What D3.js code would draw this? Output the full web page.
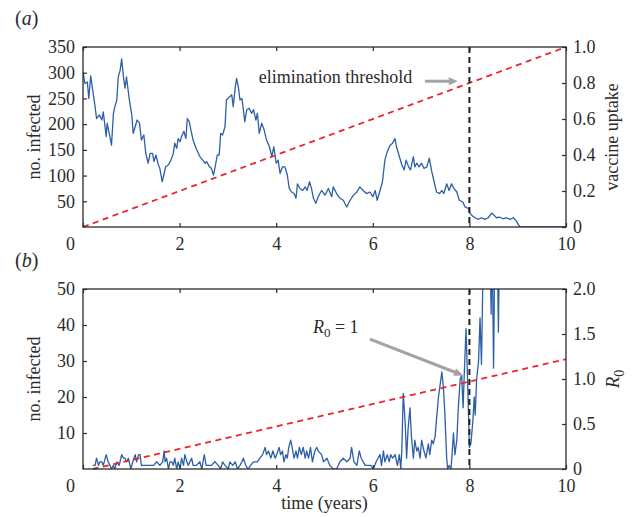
<!DOCTYPE html>
<html>
<head>
<meta charset="utf-8">
<script src="https://cdn.jsdelivr.net/npm/d3@7"></script>
<style>
  body { margin: 0; background: #fff; }
  svg text { font-family: "Liberation Serif", "Times New Roman", Times, serif; fill: #2b2b2b; }
</style>
</head>
<body>
<svg id="chart" width="634" height="517"></svg>
<script>
// ---- panel (a): infection counts while vaccine uptake rises ----
const timeA = [0.0,0.04,0.09,0.12,0.16,0.21,0.25,0.28,0.34,0.39,0.42,0.48,0.50,0.55,0.59,0.63,0.66,0.70,0.73,0.77,
  0.80,0.84,0.87,0.90,0.96,1.01,1.04,1.08,1.12,1.17,1.21,1.26,1.30,1.35,1.39,1.44,1.47,1.51,1.56,1.59,
  1.64,1.68,1.71,1.77,1.82,1.87,1.90,1.94,1.97,2.01,2.04,2.09,2.13,2.16,2.20,2.24,2.28,2.34,2.39,2.42,
  2.48,2.53,2.56,2.62,2.66,2.70,2.73,2.78,2.82,2.85,2.89,2.94,2.97,3.03,3.08,3.11,3.15,3.18,3.22,3.25,
  3.29,3.32,3.35,3.39,3.44,3.49,3.53,3.58,3.61,3.65,3.70,3.75,3.80,3.86,3.91,3.95,4.00,4.04,4.08,4.13,
  4.18,4.23,4.27,4.32,4.37,4.41,4.44,4.49,4.55,4.60,4.64,4.69,4.73,4.77,4.82,4.87,
  4.94,5.01,5.08,5.15,5.18,5.25,5.32,5.39,5.46,5.53,5.60,5.67,5.73,5.80,5.87,5.94,6.00,6.05,6.09,6.15,
  6.20,6.25,6.30,6.36,6.41,6.46,6.49,6.55,6.60,6.65,6.69,6.74,6.78,6.84,6.87,6.91,6.96,7.01,7.06,7.12,
  7.17,7.22,7.27,7.32,7.38,7.43,7.47,7.53,7.58,7.63,7.68,7.74,7.79,7.86,7.91,7.98,8.01,8.07,8.12,8.19,
  8.25,8.32,8.39,8.46,8.51,8.56,8.63,8.70,8.77,8.84,8.91,8.97,9.01,9.05,10.0];
const infectedA = [302,279,282,250,294,260,234,211,218,208,224,176,202,179,159,221,234,247,292,305,
  327,290,270,292,247,218,182,195,208,202,169,179,143,124,143,143,127,140,121,114,
  88,104,117,121,130,143,163,153,172,166,176,186,172,211,205,186,169,153,143,137,
  130,124,127,117,114,101,114,140,140,182,179,195,247,253,257,234,270,289,270,247,
  250,228,205,228,231,221,228,208,221,182,202,189,169,156,137,156,124,130,104,117,
  117,101,75,68,65,56,84,75,71,78,71,88,75,56,46,59,
  71,62,75,59,78,65,56,52,39,52,62,68,78,71,65,68,59,71,52,71,
  88,130,147,159,163,172,156,137,121,111,130,117,111,137,117,124,117,124,114,117,
  134,108,88,68,65,71,65,84,71,84,75,68,52,49,39,36,27,21,18,15,
  18,15,18,27,23,18,19,16,18,15,18,12,5,0,0];
const uptakeTime = [0, 10];
const uptake = [0, 1];

// ---- panel (b): counts while R0 rises through 1 ----
const timeB = [0.20,0.25,0.28,0.32,0.35,0.39,0.42,0.48,0.52,0.56,0.59,0.63,0.66,0.70,0.75,0.80,0.84,0.87,0.90,0.94,
  0.99,1.03,1.08,1.11,1.15,1.18,1.21,1.25,1.32,1.39,1.46,1.53,1.59,1.65,1.68,1.70,1.73,1.77,1.80,1.84,
  1.87,1.90,1.94,1.97,2.01,2.04,2.08,2.11,2.15,2.18,2.25,2.28,2.35,2.42,2.46,2.51,2.55,2.59,2.66,2.73,
  2.80,2.85,2.89,2.94,3.01,3.04,3.10,3.15,3.20,3.25,3.29,3.32,3.37,3.42,3.47,3.53,3.58,3.61,3.66,3.72,
  3.77,3.80,3.84,3.89,3.93,3.98,4.01,4.06,4.09,4.13,4.16,4.20,4.23,4.26,4.30,4.33,4.37,4.41,4.44,4.48,
  4.52,4.56,4.60,4.63,4.67,4.71,4.75,4.80,4.84,4.87,
  4.94,4.98,5.05,5.11,5.18,5.25,5.32,5.39,5.46,5.53,5.56,5.61,5.67,5.72,5.76,5.84,5.91,5.96,6.01,6.07,
  6.15,6.18,6.22,6.25,6.30,6.34,6.37,6.41,6.46,6.51,6.55,6.58,6.60,6.63,6.67,6.70,6.73,6.77,6.80,6.84,
  6.87,6.91,6.94,6.98,7.01,7.06,7.10,7.15,
  7.18,7.22,7.25,7.29,7.32,7.36,7.39,7.43,7.46,7.49,7.53,7.55,7.58,7.62,7.67,7.70,7.74,7.77,7.81,7.84,
  7.87,7.89,7.93,7.96,8.00,8.03,8.07,8.10,8.12,8.15,8.19,8.22,8.25,8.29,8.36,8.42,8.45,8.47,8.50,8.53,
  8.57,8.60,8.63];
const infectedB = [1,1,3,1,2,2,1,4,2,1,0,1,0,2,1,4,3,3,2,3,
  0,2,4,2,4,4,1,1,1,1,1,2,1,2,5,2,3,0,2,2,
  1,3,0,2,0,3,1,4,2,1,3,1,1,2,0,4,1,1,1,2,
  1,0,2,1,0,2,1,2,0,1,2,3,1,0,1,2,2,2,3,4,
  6,4,5,3,5,3,4,6,4,5,2,4,3,6,8,6,3,5,3,6,
  4,6,3,5,3,6,2,5,6,5,
  4,2,3,1,0,0,2,3,2,3,6,2,1,5,3,1,1,1,0,2,
  4,1,5,2,4,2,4,3,4,1,4,0,5,21,13,3,11,17,9,3,
  8,5,6,3,8,5,3,7,
  4,8,7,9,14,20,23,27,23,16,3,0,1,0,10,4,8,17,25,26,
  17,25,39,26,6,7,13,20,15,25,30,42,29,62,70,68,43,65,28,66,
  72,38,70];
const r0Time = [0.2, 10];
const r0 = [0, 1.22];

// ---- shared axis settings ----
const timeTicks = [0, 2, 4, 6, 8, 10];
const thresholdTime = 8;
const ticksA = [50, 100, 150, 200, 250, 300, 350];
const ticksUptake = [0, 0.2, 0.4, 0.6, 0.8, 1.0];
const ticksB = [10, 20, 30, 40, 50];
const ticksR0 = [0, 0.5, 1.0, 1.5, 2.0];

const svg = d3.select("#chart");
const FONT = '"Liberation Serif", "Times New Roman", Times, serif';
const BLUE = "#2d5fa6", RED = "#e8262b", INK = "#2b2b2b", GREY = "#a3a3a3";
const x = d3.scaleLinear().domain([0, 10]).range([83, 566]);

function arrow(g, x1, y1, x2, y2) {
  const len = 9, half = 4;
  const dx = x2 - x1, dy = y2 - y1, L = Math.hypot(dx, dy);
  const ux = dx / L, uy = dy / L;
  const bx = x2 - ux * len, by = y2 - uy * len;
  g.append("line").attr("x1", x1).attr("y1", y1).attr("x2", bx + ux).attr("y2", by + uy)
    .attr("stroke", GREY).attr("stroke-width", 3);
  g.append("path")
    .attr("d", `M${x2},${y2}L${bx - uy * half},${by + ux * half}L${bx + uy * half},${by - ux * half}Z`)
    .attr("fill", GREY);
}

function styleAxis(a) {
  a.attr("font-family", FONT).attr("font-size", 18);
  a.select(".domain").remove();
  a.selectAll(".tick line").attr("stroke", INK).attr("stroke-width", 1.2);
  a.selectAll(".tick text").attr("fill", INK);
}

function drawPanel(p) {
  const y = d3.scaleLinear().domain(p.leftDomain).range([p.bottom, p.top]);
  const y2 = d3.scaleLinear().domain(p.rightDomain).range([p.bottom, p.top]);
  const g = svg.append("g");

  g.append("clipPath").attr("id", p.id + "-clip")
    .append("rect").attr("x", x(0)).attr("y", p.top).attr("width", x(10) - x(0)).attr("height", p.bottom - p.top);

  // simulated infection counts
  g.append("path")
    .datum(d3.zip(p.time, p.counts))
    .attr("clip-path", `url(#${p.id}-clip)`)
    .attr("fill", "none").attr("stroke", BLUE).attr("stroke-width", 1.3).attr("stroke-linejoin", "round")
    .attr("d", d3.line().x(d => x(d[0])).y(d => y(d[1])));

  // right-axis quantity (dashed red)
  g.append("path")
    .datum(d3.zip(p.refTime, p.ref))
    .attr("fill", "none").attr("stroke", RED).attr("stroke-width", 1.8).attr("stroke-dasharray", "6,4.5")
    .attr("d", d3.line().x(d => x(d[0])).y(d => y2(d[1])));

  // threshold marker
  g.append("line")
    .attr("x1", x(thresholdTime)).attr("x2", x(thresholdTime))
    .attr("y1", p.top).attr("y2", p.bottom)
    .attr("stroke", "#222").attr("stroke-width", 2).attr("stroke-dasharray", "6,4");

  // frame
  g.append("rect").attr("x", x(0)).attr("y", p.top)
    .attr("width", x(10) - x(0)).attr("height", p.bottom - p.top)
    .attr("fill", "none").attr("stroke", INK).attr("stroke-width", 1.3);

  g.append("g").attr("transform", `translate(0,${p.bottom})`)
    .call(d3.axisBottom(x).tickValues(timeTicks).tickSize(-4).tickPadding(10).tickFormat(d3.format("d")))
    .call(styleAxis)
    .call(a => a.selectAll(".tick text").filter(d => d === 0).attr("dx", -13));
  g.append("g").attr("transform", `translate(0,${p.top})`)
    .call(d3.axisTop(x).tickValues(timeTicks).tickSize(-4).tickFormat(""))
    .call(styleAxis);
  g.append("g").attr("transform", `translate(${x(0)},0)`)
    .call(d3.axisLeft(y).tickValues(p.leftTicks).tickSize(-4).tickPadding(8).tickFormat(d3.format("d")))
    .call(styleAxis);
  g.append("g").attr("transform", `translate(${x(10)},0)`)
    .call(d3.axisRight(y2).tickValues(p.rightTicks).tickSize(-4).tickPadding(7)
      .tickFormat(d => d === 0 ? "0" : d3.format(".1f")(d)))
    .call(styleAxis);

  // panel letter
  const letter = g.append("text").attr("x", 15).attr("y", p.top - 22).attr("font-size", 20);
  letter.append("tspan").text("(");
  letter.append("tspan").attr("font-style", "italic").text(p.letter);
  letter.append("tspan").text(")");

  // left axis title
  const mid = (p.top + p.bottom) / 2;
  g.append("text").attr("transform", `translate(40,${mid}) rotate(-90)`)
    .attr("text-anchor", "middle").attr("font-size", 18).text("no. infected");

  p.extras(g, y, y2, mid);
}

drawPanel({
  id: "a", top: 47, bottom: 227, letter: "a",
  leftDomain: [0, 350], leftTicks: ticksA,
  rightDomain: [0, 1], rightTicks: ticksUptake,
  time: timeA, counts: infectedA, refTime: uptakeTime, ref: uptake,
  extras(g, y, y2, mid) {
    g.append("text").attr("transform", `translate(618,${mid}) rotate(-90)`)
      .attr("text-anchor", "middle").attr("font-size", 18).text("vaccine uptake");
    g.append("text").attr("x", x(3.64)).attr("y", y2(0.8)).attr("font-size", 18).text("elimination threshold");
    arrow(g, x(7.08), y2(0.81), x(7.76), y2(0.81));
  }
});

drawPanel({
  id: "b", top: 289, bottom: 469, letter: "b",
  leftDomain: [0, 50], leftTicks: ticksB,
  rightDomain: [0, 2], rightTicks: ticksR0,
  time: timeB, counts: infectedB, refTime: r0Time, ref: r0,
  extras(g, y, y2, mid) {
    const rl = g.append("text").attr("transform", `translate(619,${mid}) rotate(-90)`)
      .attr("text-anchor", "middle").attr("font-size", 19);
    rl.append("tspan").attr("font-style", "italic").text("R");
    rl.append("tspan").attr("font-size", 14).attr("dy", 5).text("0");

    const lab = g.append("text").attr("x", x(4.76)).attr("y", y2(1.51)).attr("font-size", 18);
    lab.append("tspan").attr("font-style", "italic").text("R");
    lab.append("tspan").attr("font-size", 13).attr("dy", 4).text("0");
    lab.append("tspan").attr("dy", -4).text(" = 1");
    arrow(g, x(5.94), y2(1.444), x(7.87), y2(1.04));

    g.append("text").attr("x", (x(0) + x(10)) / 2 + 0).attr("y", 509)
      .attr("text-anchor", "middle").attr("font-size", 18).text("time (years)");
  }
});
</script>
</body>
</html>
